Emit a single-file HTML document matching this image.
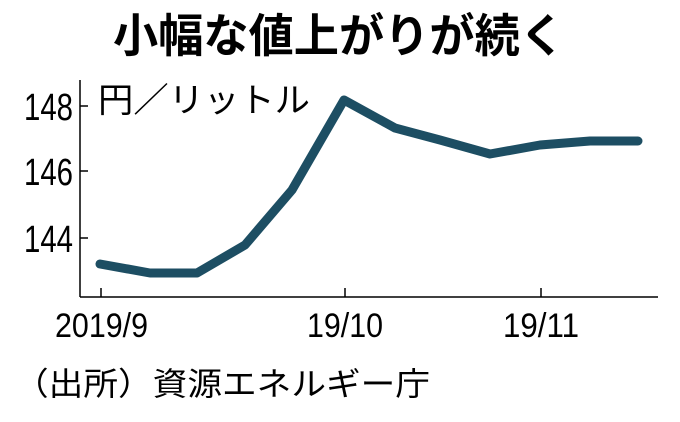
<!DOCTYPE html>
<html><head><meta charset="utf-8"><style>
body{margin:0;background:#fff;width:680px;height:417px;overflow:hidden}
</style></head><body>
<svg width="680" height="417" viewBox="0 0 680 417" style="font-family:'Liberation Sans','Noto Sans CJK JP',sans-serif">
<text x="113" y="52" textLength="452" lengthAdjust="spacingAndGlyphs" font-size="46" font-weight="bold" fill="#000" font-family="'Noto Sans CJK JP',sans-serif">小幅な値上がりが続く</text>
<line x1="80" y1="80" x2="80" y2="297" stroke="#000" stroke-width="1.5"/>
<line x1="80" y1="297" x2="658" y2="297" stroke="#000" stroke-width="1.5"/>
<g stroke="#000" stroke-width="1.5">
<line x1="80" y1="106" x2="88" y2="106"/><line x1="80" y1="171" x2="88" y2="171"/><line x1="80" y1="238" x2="88" y2="238"/>
<line x1="101" y1="297" x2="101" y2="288"/><line x1="345" y1="297" x2="345" y2="288"/><line x1="541" y1="297" x2="541" y2="288"/>
</g>
<g font-size="38" fill="#000" font-family="'Liberation Sans Narrow','Liberation Sans',sans-serif">
<text x="24" y="120" textLength="49" lengthAdjust="spacingAndGlyphs">148</text>
<text x="24" y="185" textLength="49" lengthAdjust="spacingAndGlyphs">146</text>
<text x="24" y="252" textLength="49" lengthAdjust="spacingAndGlyphs">144</text>
</g>
<text x="98" y="112" textLength="212" lengthAdjust="spacingAndGlyphs" font-size="34" fill="#000" font-family="'Noto Sans CJK JP',sans-serif">円／リットル</text>
<polyline points="100,264 150,273 197,273 245,245 292,190 344,100 395,128 440,140 490,154 540,145 590,141 638,141" fill="none" stroke="#1d4e63" stroke-width="9" stroke-linejoin="round" stroke-linecap="round"/>
<g font-size="34" fill="#000" font-family="'Liberation Sans Narrow','Liberation Sans',sans-serif">
<text x="55" y="337" textLength="93" lengthAdjust="spacingAndGlyphs">2019/9</text>
<text x="307" y="337" textLength="76" lengthAdjust="spacingAndGlyphs">19/10</text>
<text x="503" y="337" textLength="76" lengthAdjust="spacingAndGlyphs">19/11</text>
</g>
<text x="14" y="395" textLength="416" lengthAdjust="spacingAndGlyphs" font-size="32" fill="#000" font-family="'Noto Sans CJK JP',sans-serif">（出所）資源エネルギー庁</text>
</svg>
</body></html>
